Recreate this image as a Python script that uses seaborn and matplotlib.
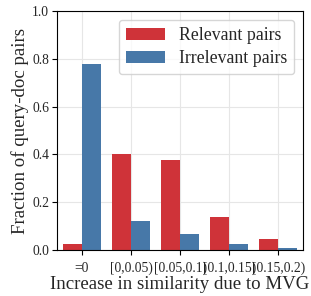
import pandas as pd
import seaborn as sns
import matplotlib.pyplot as plt

bins = ["=0", "[0,0.05)", "[0.05,0.1)", "[0.1,0.15)", "[0.15,0.2)"]
relevant = [0.026, 0.400, 0.376, 0.138, 0.046]
irrelevant = [0.778, 0.121, 0.067, 0.025, 0.008]

df = pd.DataFrame({
    "bin": bins * 2,
    "frac": relevant + irrelevant,
    "pair": ["Relevant pairs"] * len(bins) + ["Irrelevant pairs"] * len(bins),
})

sns.set_theme(style="whitegrid")
plt.rcParams['font.family'] = ['Liberation Serif', 'DejaVu Serif']

fig, ax = plt.subplots(figsize=(3.11, 2.96), dpi=100)
sns.barplot(data=df, x="bin", y="frac", hue="pair", order=bins,
            palette=["#cf3339", "#4778a8"], saturation=1, width=0.78,
            linewidth=0, ax=ax)

ax.set_ylim(0, 1.0)
ax.set_xlim(-0.51, 4.51)
ax.set_yticks([0, 0.2, 0.4, 0.6, 0.8, 1.0])
ax.set_xlabel("Increase in similarity due to MVG", fontsize=13.6, labelpad=1)
ax.set_ylabel("Fraction of query-doc pairs", fontsize=13.6, labelpad=2)
ax.tick_params(axis="both", labelsize=9.8, length=3.5, width=0.8, pad=2, direction="out",
               bottom=True, left=True, color="black")
for lbl in ax.get_xticklabels():
    lbl.set_verticalalignment("baseline")
ax.tick_params(axis="x", pad=12)
ax.grid(True, color="#e6e6e6", linewidth=0.8)
for s in ax.spines.values():
    s.set_color("black")
    s.set_linewidth(0.8)
ax.legend(title=None, loc="upper right", fontsize=12.8, framealpha=0.8, edgecolor="#cccccc",
          handlelength=2.2, handletextpad=0.8, borderpad=0.4, labelspacing=0.35)

fig.subplots_adjust(left=0.183, right=0.975, top=0.963, bottom=0.155)
fig.savefig("out.png", dpi=100)
